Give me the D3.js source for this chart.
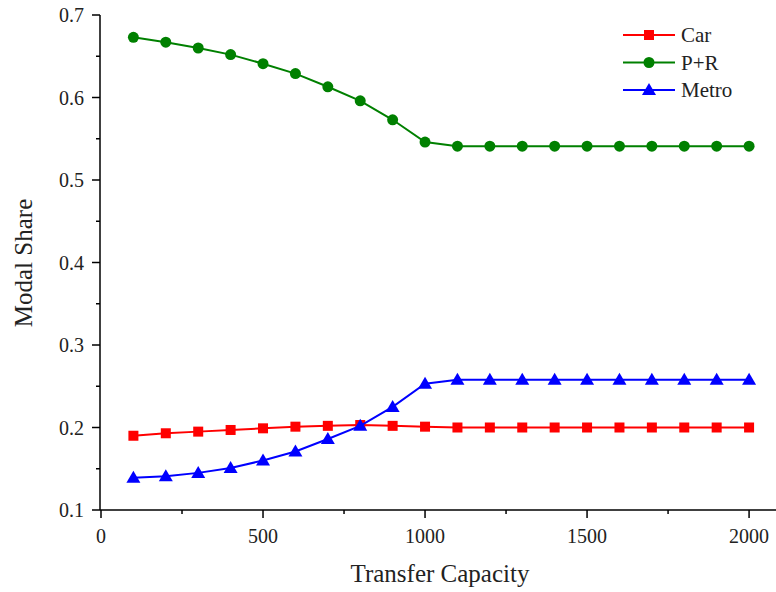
<!DOCTYPE html>
<html><head><meta charset="utf-8">
<script src="https://cdn.jsdelivr.net/npm/d3@7"></script>
<style>body{margin:0;background:#fff}svg{display:block}</style>
</head><body>
<script>
const capacity = [100,200,300,400,500,600,700,800,900,1000,1100,1200,1300,1400,1500,1600,1700,1800,1900,2000];
const car   = [0.190,0.193,0.195,0.197,0.199,0.201,0.202,0.203,0.202,0.201,0.200,0.200,0.200,0.200,0.200,0.200,0.200,0.200,0.200,0.200];
const pr    = [0.673,0.667,0.660,0.652,0.641,0.629,0.613,0.596,0.573,0.546,0.541,0.541,0.541,0.541,0.541,0.541,0.541,0.541,0.541,0.541];
const metro = [0.139,0.141,0.145,0.151,0.160,0.171,0.186,0.202,0.225,0.253,0.258,0.258,0.258,0.258,0.258,0.258,0.258,0.258,0.258,0.258];
const xTicks = [0,500,1000,1500,2000];
const yTicks = [0.1,0.2,0.3,0.4,0.5,0.6,0.7];
const seriesNames = ["Car","P+R","Metro"];
const seriesColors = ["#ff0000","#008000","#0000ff"];

const W=776,H=592;
const svg=d3.select("body").append("svg").attr("width",W).attr("height",H);
const x=d3.scaleLinear().domain([0,2080]).range([101,775]);
const y=d3.scaleLinear().domain([0.1,0.7]).range([510,15]);
const font="'Liberation Serif','Times New Roman',serif";

// axes
const xAxis=svg.append("g").attr("transform","translate(0,510)");
xAxis.append("line").attr("x1",100).attr("x2",776).attr("stroke","#000").attr("stroke-width",1.5);
xAxis.call(g=>{
  g.selectAll(".mj").data(xTicks).enter().append("line").attr("x1",d=>x(d)).attr("x2",d=>x(d)).attr("y1",0).attr("y2",8).attr("stroke","#000").attr("stroke-width",1.5);
  g.selectAll(".mn").data(d3.range(250,2080,500)).enter().append("line").attr("x1",d=>x(d)).attr("x2",d=>x(d)).attr("y1",0).attr("y2",4).attr("stroke","#000").attr("stroke-width",1.5);
  g.selectAll(".lb").data(xTicks).enter().append("text").attr("x",d=>x(d)).attr("y",33).attr("text-anchor","middle")
   .attr("font-family",font).attr("font-size",20).attr("fill","#222").text(d=>d);
});
const yAxis=svg.append("g").attr("transform","translate(100,0)");
yAxis.append("line").attr("y1",15).attr("y2",510).attr("stroke","#000").attr("stroke-width",1.5);
yAxis.selectAll(".mj").data(yTicks).enter().append("line").attr("y1",d=>y(d)).attr("y2",d=>y(d)).attr("x1",0).attr("x2",-8).attr("stroke","#000").attr("stroke-width",1.5);
yAxis.selectAll(".mn").data(d3.range(0.15,0.7,0.1)).enter().append("line").attr("y1",d=>y(d)).attr("y2",d=>y(d)).attr("x1",0).attr("x2",-4).attr("stroke","#000").attr("stroke-width",1.5);
yAxis.selectAll(".lb").data(yTicks).enter().append("text").attr("x",-16).attr("y",d=>y(d)+7).attr("text-anchor","end")
  .attr("font-family",font).attr("font-size",20).attr("fill","#222").text(d=>d.toFixed(1));

svg.append("text").attr("x",440).attr("y",582).attr("text-anchor","middle").attr("font-family",font).attr("font-size",25).attr("fill","#222").text("Transfer Capacity");
svg.append("text").attr("transform","translate(32,263) rotate(-90)").attr("text-anchor","middle").attr("font-family",font).attr("font-size",25).attr("fill","#222").text("Modal Share");

const data=[car,pr,metro];
const line=d3.line().x((d,i)=>x(capacity[i])).y(d=>y(d));
function marker(g,k,cx,cy,color){
  if(k===0) g.append("rect").attr("x",cx-5).attr("y",cy-5).attr("width",10).attr("height",10).attr("fill",color);
  else if(k===1) g.append("circle").attr("cx",cx).attr("cy",cy).attr("r",5.5).attr("fill",color);
  else g.append("path").attr("d",`M${cx},${cy-7}L${cx+7},${cy+5}L${cx-7},${cy+5}Z`).attr("fill",color);
}
data.forEach((s,k)=>{
  const g=svg.append("g");
  g.append("path").datum(s).attr("d",line).attr("fill","none").attr("stroke",seriesColors[k]).attr("stroke-width",2);
  s.forEach((v,i)=>marker(g,k,x(capacity[i]),y(v),seriesColors[k]));
});

// legend
const lg=svg.append("g");
seriesNames.forEach((n,k)=>{
  const ly=35+k*27.5;
  lg.append("line").attr("x1",623).attr("x2",675).attr("y1",ly).attr("y2",ly).attr("stroke",seriesColors[k]).attr("stroke-width",2);
  marker(lg,k,649,ly,seriesColors[k]);
  lg.append("text").attr("x",681).attr("y",ly+7).attr("font-family",font).attr("font-size",21).attr("fill","#222").text(n);
});
</script>
</body></html>
